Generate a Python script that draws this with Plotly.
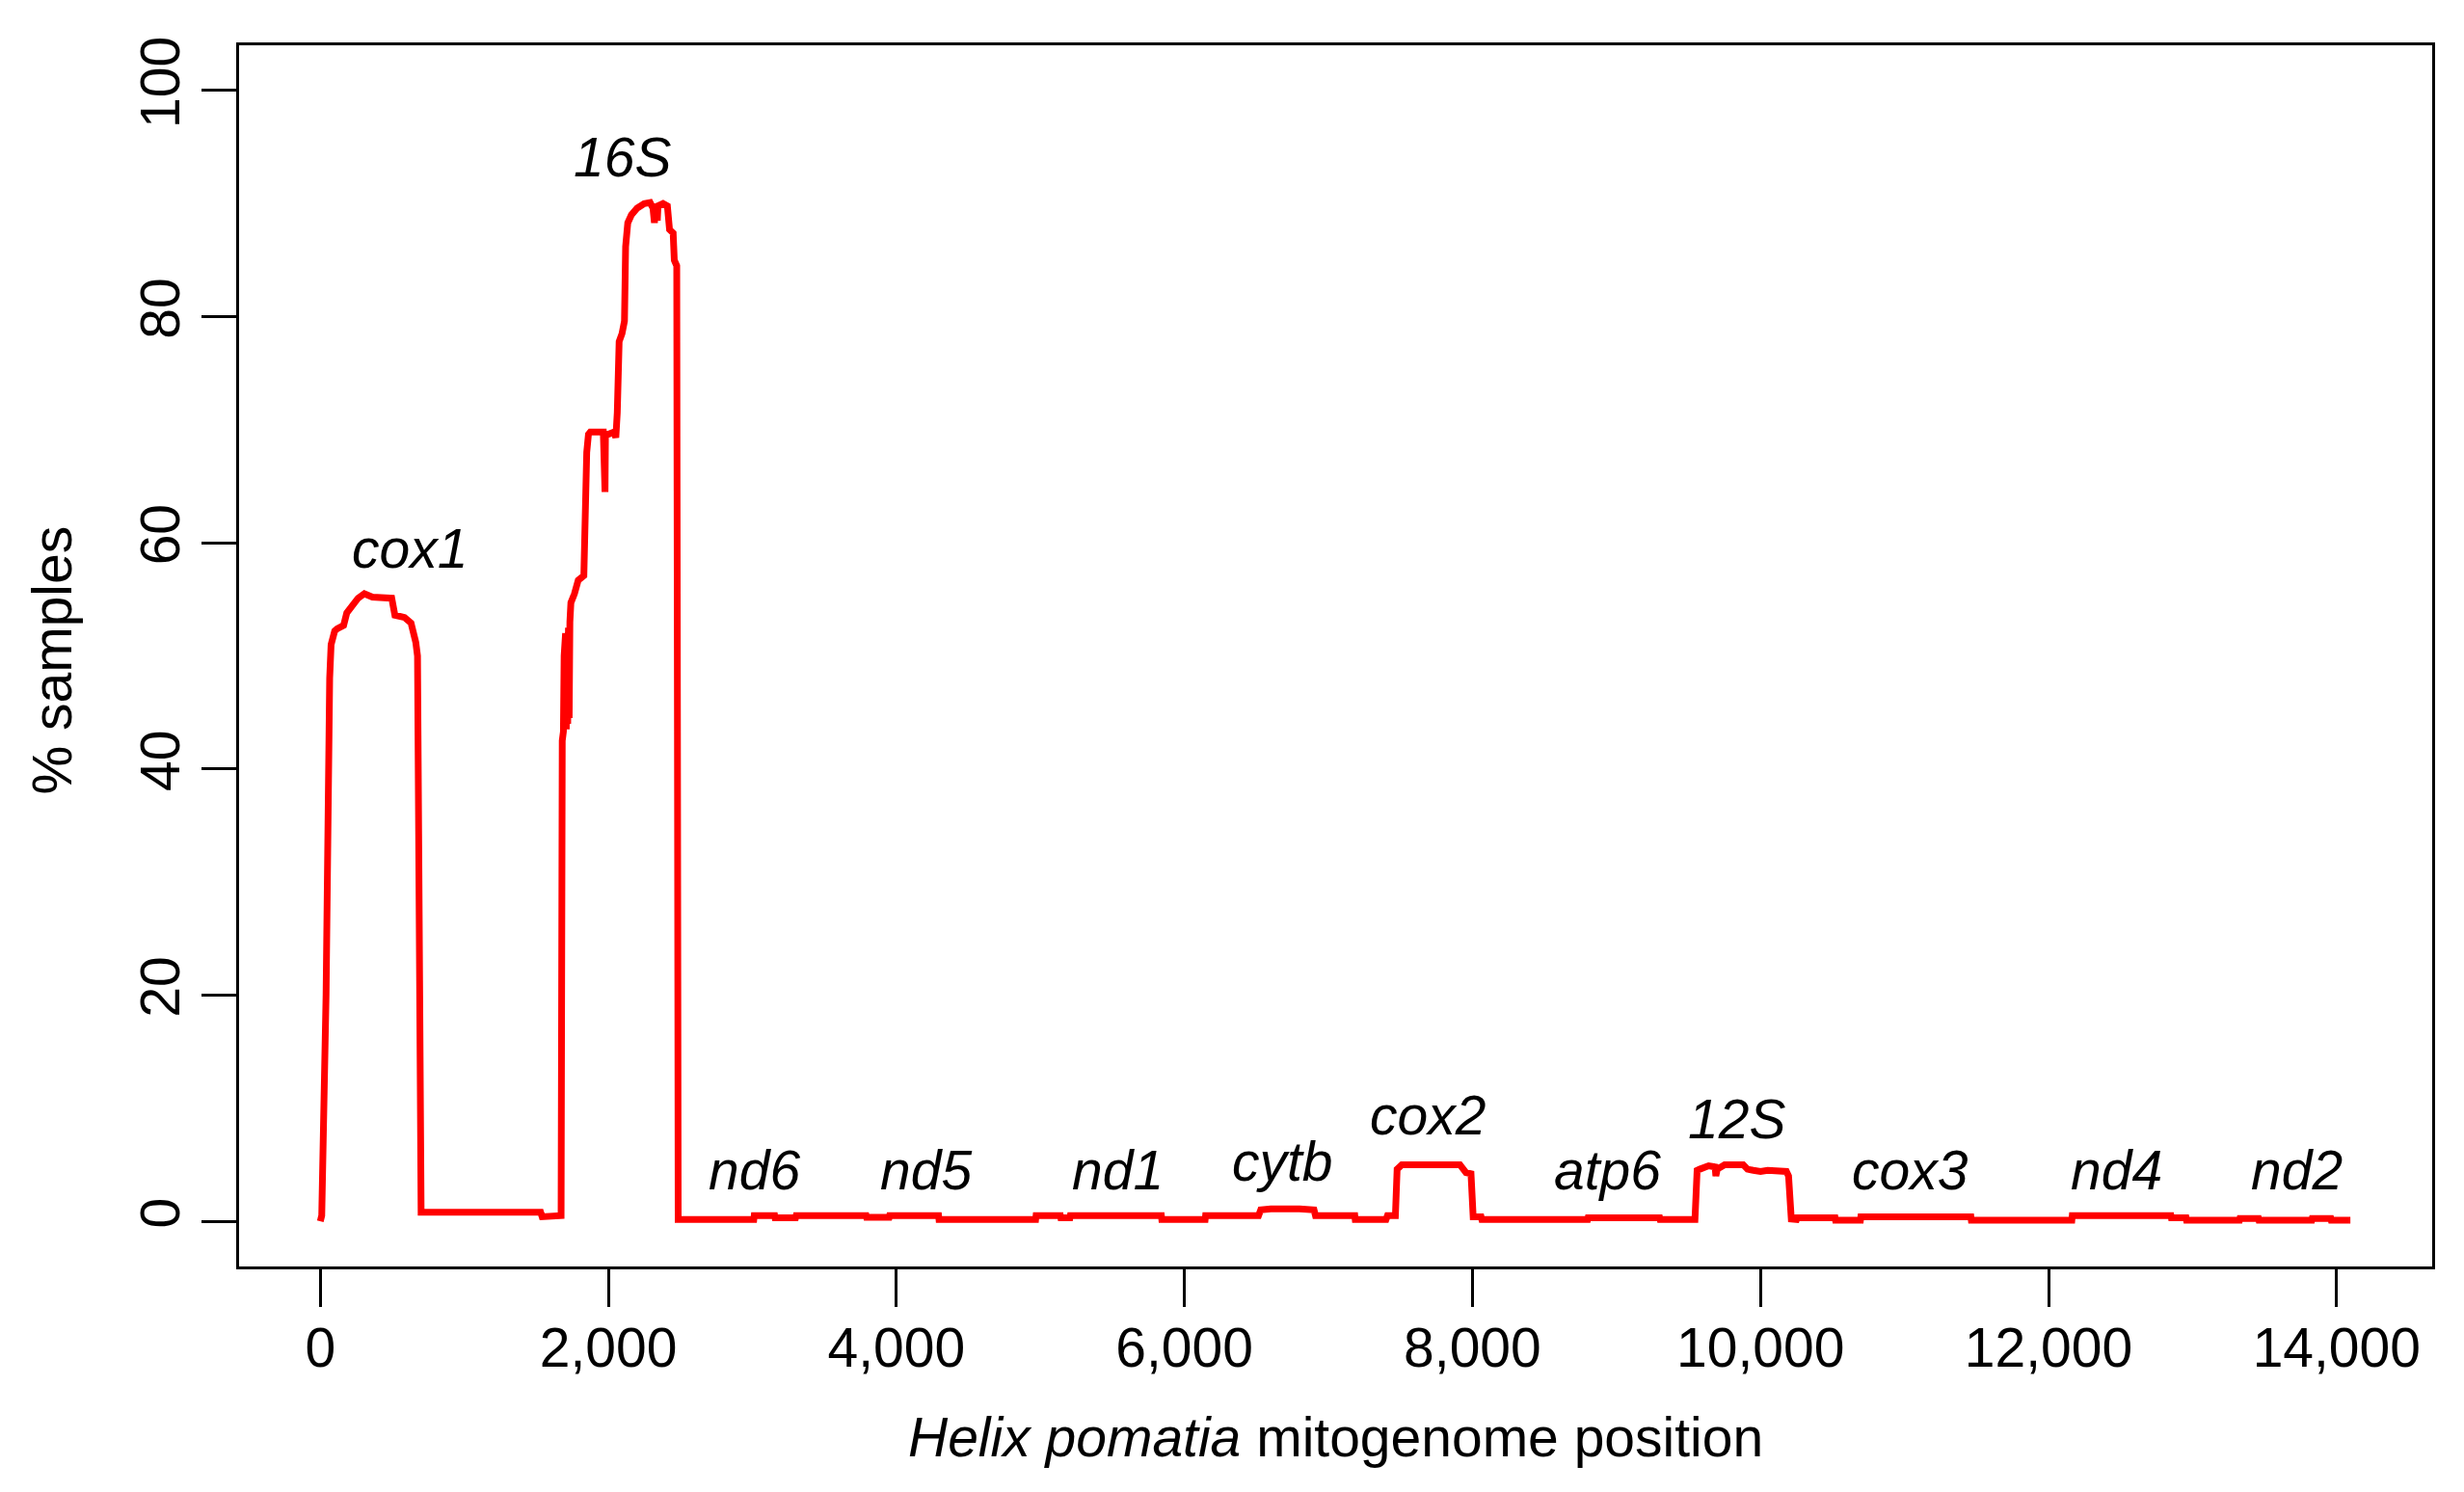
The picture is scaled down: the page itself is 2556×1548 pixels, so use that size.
import plotly.graph_objects as go

# Coverage profile (% of samples) along the Helix pomatia mitogenome
position = [0, 10, 40, 50, 65, 75, 100, 117, 162, 184, 217, 262, 306, 362, 496, 518, 585, 630, 663, 675, 700,
            1530, 1540, 1665, 1672, 1680, 1688, 1693, 1698, 1703, 1708, 1713, 1718, 1723, 1728, 1733, 1740,
            1765, 1791, 1830, 1838, 1850, 1862, 1875, 1965, 1972, 1977, 1980, 2041, 2052, 2062, 2075, 2095,
            2112, 2120, 2135, 2160, 2200, 2249, 2290, 2310, 2320, 2331, 2340, 2345, 2380, 2410, 2425, 2450,
            2458, 2475, 2485,
            3010, 3013, 3155, 3158, 3300, 3304, 3790, 3793, 3950, 3953, 4293, 4296, 4967, 4970, 5139, 5142,
            5205, 5208, 5840, 5843, 6144, 6147, 6515, 6530, 6600, 6800, 6900, 6910, 7183, 7186, 7400, 7410,
            7465, 7477, 7500, 7510, 7913, 7930, 7955, 7990, 8005, 8060, 8065, 8800, 8803, 9300, 9303, 9545,
            9560, 9578, 9640, 9685, 9690, 9700, 9751, 9880, 9910, 9950, 10000, 10050, 10150, 10180, 10195,
            10214, 10250, 10254, 10518, 10521, 10694, 10697, 11461, 11464, 12162, 12165, 12850, 12853, 12955,
            12958, 13326, 13329, 13458, 13461, 13828, 13831, 13960, 13963, 14096]
pct_samples = [0, 0.5, 20, 37, 48, 51, 52.2, 52.4, 52.7, 53.8, 54.4, 55.1, 55.5, 55.2, 55.1, 53.6, 53.4, 52.9, 51.2, 50, 0.8,
               0.8, 0.4, 0.4, 0.5, 42.5, 43.3, 50, 44, 52, 43.5, 52, 44, 52.5, 44.5, 53, 54.7,
               55.5, 56.7, 57.1, 67.6, 68, 69.6, 69.8, 69.8, 64.5, 64.5, 69.5, 69.8, 69.3, 71.5, 77.8, 78.5,
               79.6, 86.2, 88.3, 89.0, 89.6, 90.0, 90.1, 89.6, 88.3, 90, 88.5, 89.8, 90, 89.8, 87.7, 87.4,
               85.0, 84.5, 0.15,
               0.15, 0.5, 0.5, 0.3, 0.3, 0.5, 0.5, 0.35, 0.35, 0.5, 0.5, 0.15, 0.15, 0.5, 0.5, 0.3,
               0.3, 0.5, 0.5, 0.15, 0.15, 0.5, 0.5, 1.0, 1.1, 1.1, 1.0, 0.5, 0.5, 0.15, 0.15, 0.5,
               0.5, 4.6, 4.9, 5.0, 5.0, 4.7, 4.3, 4.2, 0.4, 0.4, 0.15, 0.15, 0.3, 0.3, 0.15, 0.15,
               4.5, 4.6, 4.9, 4.8, 4.0, 4.6, 5.0, 5.0, 4.6, 4.5, 4.4, 4.5, 4.5, 4.4, 4.0,
               0.2, 0.15, 0.3, 0.3, 0.1, 0.1, 0.4, 0.4, 0.1, 0.1, 0.5, 0.5, 0.3, 0.3,
               0.1, 0.1, 0.25, 0.25, 0.1, 0.1, 0.25, 0.25, 0.1, 0.1]

# Gene labels
gene_names = ["cox1", "16S", "nd6", "nd5", "nd1", "cytb", "cox2", "atp6", "12S", "cox3", "nd4", "nd2"]
gene_label_x = [622, 2100, 3013, 4203, 5540, 6681, 7686, 8940, 9836, 11041, 12470, 13726]
gene_label_y = [59.5, 94.1, 4.5, 4.5, 4.5, 5.3, 9.4, 4.5, 9.0, 4.5, 4.5, 4.5]

x_tick_vals = [0, 2000, 4000, 6000, 8000, 10000, 12000, 14000]
x_tick_text = ["0", "2,000", "4,000", "6,000", "8,000", "10,000", "12,000", "14,000"]
y_tick_vals = [0, 20, 40, 60, 80, 100]
y_tick_text = ["0", "20", "40", "60", "80", "100"]

FONT = "Liberation Sans, Arial, Helvetica, sans-serif"
FS = 57

fig = go.Figure()
fig.add_trace(go.Scatter(x=position, y=pct_samples, mode="lines",
                         line=dict(color="#FF0000", width=7), hoverinfo="skip", showlegend=False))

for name, gx, gy in zip(gene_names, gene_label_x, gene_label_y):
    fig.add_annotation(x=gx, y=gy, xref="x", yref="y", text=f"<i>{name}</i>", showarrow=False,
                       xanchor="center", yanchor="middle", font=dict(family=FONT, size=FS, color="black"))

fig.add_annotation(x=0.5, y=0, xref="paper", yref="paper", yshift=-177,
                   text="<i>Helix pomatia</i> mitogenome position", showarrow=False,
                   xanchor="center", yanchor="middle", font=dict(family=FONT, size=FS, color="black"))
fig.add_annotation(x=0, y=0.496, xref="paper", yref="paper", xshift=-194, textangle=-90,
                   text="% samples", showarrow=False,
                   xanchor="center", yanchor="middle", font=dict(family=FONT, size=FS, color="black"))

fig.update_layout(
    width=2540, height=1532,
    margin=dict(l=240, r=25, t=39, b=226, pad=0),
    paper_bgcolor="white", plot_bgcolor="white",
    showlegend=False,
    font=dict(family=FONT, size=FS, color="black"),
)
fig.update_xaxes(range=[-564, 14664], tickmode="array", tickvals=x_tick_vals, ticktext=x_tick_text,
                 ticks="outside", ticklen=39, tickwidth=2.5, tickcolor="black", ticklabelstandoff=-6,
                 showline=True, linewidth=3, linecolor="black", mirror=True,
                 showgrid=False, zeroline=False, tickfont=dict(family=FONT, size=FS, color="black"))
fig.update_yaxes(range=[-4, 104], tickmode="array", tickvals=y_tick_vals, ticktext=y_tick_text,
                 ticks="outside", ticklen=36, tickwidth=2.5, tickcolor="black", tickangle=-90,
                 showline=True, linewidth=3, linecolor="black", mirror=True,
                 showgrid=False, zeroline=False, tickfont=dict(family=FONT, size=FS, color="black"))

fig.write_html("out.html")
